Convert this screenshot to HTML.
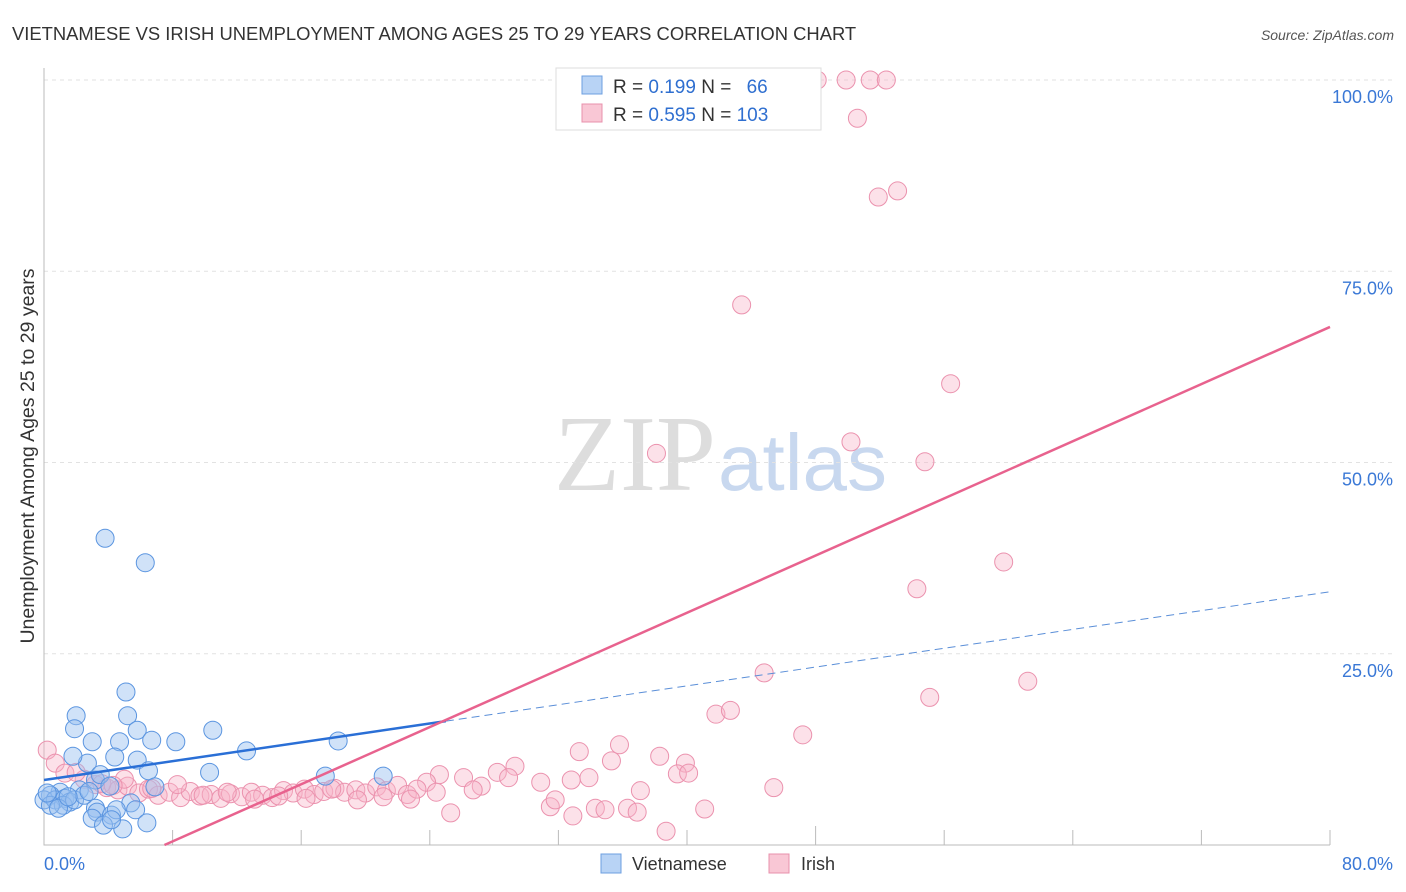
<!DOCTYPE html>
<html><head><meta charset="utf-8">
<style>
body{margin:0;background:#fff;font-family:"Liberation Sans",sans-serif;}
svg{display:block}
</style></head><body>
<svg id="c" width="1406" height="892">
<text x="12" y="40" font-size="18.4" fill="#333">VIETNAMESE VS IRISH UNEMPLOYMENT AMONG AGES 25 TO 29 YEARS CORRELATION CHART</text>
<text x="1394" y="40" font-size="14" fill="#555" font-style="italic" text-anchor="end">Source: ZipAtlas.com</text>
<text x="716" y="490" font-size="108" fill="#ddd" text-anchor="end" font-family="Liberation Serif">ZIP</text>
<text x="718" y="490" font-size="80" fill="#c8d8ef">atlas</text>
<text transform="translate(34,456) rotate(-90)" font-size="19.5" fill="#333" text-anchor="middle">Unemployment Among Ages 25 to 29 years</text>
<g id="grid"></g><g id="pts"></g><g id="lines"></g>
<g>
<rect x="556" y="68" width="265" height="62" fill="#fff" stroke="#ddd"/>
<rect x="582" y="76" width="20" height="18" fill="#b8d3f5" stroke="#6d9fe0"/>
<rect x="582" y="104" width="20" height="18" fill="#f9c7d5" stroke="#e890ac"/>
<text x="613" y="93" font-size="19" fill="#333">R = <tspan fill="#2f6fd0">0.199</tspan>   N = <tspan fill="#2f6fd0" dx="10">66</tspan></text>
<text x="613" y="121" font-size="19" fill="#333">R = <tspan fill="#2f6fd0">0.595</tspan>   N = <tspan fill="#2f6fd0">103</tspan></text>
</g>
<g>
<rect x="601" y="854" width="20" height="19" fill="#b8d3f5" stroke="#6d9fe0"/>
<text x="632" y="870" font-size="18" fill="#333">Vietnamese</text>
<rect x="769" y="854" width="20" height="19" fill="#f9c7d5" stroke="#e890ac"/>
<text x="801" y="870" font-size="18" fill="#333">Irish</text>
</g>
</svg>
<script>
const yTicks=[25,50,75,100];
const yTickLabels=["25.0%","50.0%","75.0%","100.0%"];
const xTicks=[8,16,24,32,40,48,56,64,72,80];
const viX=[3.8,6.3,5.1,5.2,2.0,1.9,5.8,10.5,6.7,8.2,3.0,4.7,4.4,12.6,18.3,2.7,1.8,5.8,10.3,6.5,17.5,21.1,6.9,3.2,3.5,4.1,2.2,1.0,0.4,0,0.7,1.3,1.6,1.2,3.2,3.3,4.2,5.4,4.5,5.7,3.0,3.7,4.9,6.4,4.2,0.4,0.9,1.9,2.5,0.2,1.5,2.8];
const viY=[40.1,36.9,20,16.9,16.9,15.2,15,15,13.7,13.5,13.5,13.5,11.5,12.3,13.6,10.7,11.6,11.1,9.5,9.7,9,9,7.6,8.5,9.2,7.7,7.2,6.9,6.5,5.9,5.9,6.1,5.6,5.2,4.8,4.3,3.9,5.5,4.6,4.6,3.5,2.6,2.1,2.9,3.3,5.2,4.8,5.9,6.5,6.8,6.3,7.0];
const irX=[46,48.1,49.9,51.4,52.4,50.6,51.9,53.1,43.4,56.4,50.2,38.1,54.8,59.7,54.3,61.2,55.1,44.8,41.8,42.7,47.2,45.4,41.1,38.7,37.1,38.3,39.9,39.4,40.1,35.8,35.3,33.3,33.9,32.8,31.5,31.8,32.9,34.3,34.9,36.3,36.9,30.9,29.3,28.2,28.9,26.1,27.2,26.7,24.6,23.8,24.4,25.3,0.2,0.7,1.3,2.5,3.2,3.9,4.6,5.2,5.9,6.5,7.1,7.8,8.5,9.1,9.7,10.4,11.0,11.6,12.3,12.9,13.6,14.2,14.9,15.5,16.2,16.8,17.4,18.1,18.7,19.4,20.0,20.7,21.3,22.0,22.6,23.2,2.0,3.6,5.0,6.7,8.3,9.9,11.4,13.1,14.6,16.3,17.9,19.5,21.1,22.8,4.3];
const irY=[100,100,100,100,100,95,84.7,85.5,70.6,60.3,52.7,51.2,50.1,37,33.5,21.4,19.3,22.5,17.1,17.6,14.4,7.5,4.7,1.8,7.1,11.6,10.7,9.3,9.4,13.1,11,12.2,8.8,8.5,5,5.9,3.8,4.8,4.6,4.8,4.3,8.2,10.3,9.5,8.8,8.8,7.7,7.2,9.2,8.2,6.9,4.2,12.4,10.7,9.4,8.6,7.9,7.5,7.2,7.7,6.8,7.3,6.5,6.9,6.2,7.0,6.4,6.6,6.1,6.7,6.3,6.9,6.5,6.2,7.1,6.8,7.3,6.6,7.0,7.4,6.9,7.2,6.8,7.6,7.1,7.8,6.6,7.3,9.5,8.0,8.6,7.4,7.9,6.5,6.9,6.0,6.4,6.1,7.3,5.9,6.3,6.0,7.8];
const viFit=[8.5,0.3075], irFit=[-7.0,0.934];
const X=v=>44+v/80*1286, Y=v=>845-v*7.65;
const NS="http://www.w3.org/2000/svg";
function mk(p,t,a){const e=document.createElementNS(NS,t);for(const k in a)e.setAttribute(k,a[k]);p.appendChild(e);return e;}
const g=document.getElementById('grid');
yTicks.forEach((t,i)=>{
 const l=mk(g,'line',{x1:44,x2:1394,y1:Y(t),y2:Y(t),stroke:'#e2e2e2','stroke-dasharray':'4,4'});
 
 
 const tx=mk(g,'text',{x:1393,y:Y(t)+23,'font-size':18,fill:'#3a78d6','text-anchor':'end'});tx.textContent=yTickLabels[i];
 
 
});
const ax=mk(g,'path',{d:'M44,68V845H1330',stroke:'#bbb',fill:'none'});


xTicks.forEach(t=>{const l=mk(g,'line',{x1:X(t),x2:X(t),y1:t===48?826:830,y2:845,stroke:'#bbb'});
 
 });
const x0=mk(g,'text',{x:44,y:870,'font-size':18,fill:'#3a78d6'});x0.textContent='0.0%';


const x1=mk(g,'text',{x:1393,y:870,'font-size':18,fill:'#3a78d6','text-anchor':'end'});x1.textContent='80.0%';


const pg=document.getElementById('pts');
irX.forEach((x,i)=>{const c=mk(pg,'circle',{cx:X(x),cy:Y(irY[i]),r:9,fill:'rgba(248,180,200,0.4)',stroke:'#eb92ae','stroke-width':1});
 
 });
viX.forEach((x,i)=>{const c=mk(pg,'circle',{cx:X(x),cy:Y(viY[i]),r:9,fill:'rgba(150,190,240,0.45)',stroke:'#5b95e0','stroke-width':1});
 
 });
const lg=document.getElementById('lines');
const f=(p,x)=>p[0]+p[1]*x;
let a=mk(lg,'line',{x1:X(0),y1:Y(f(viFit,0)),x2:X(25),y2:Y(f(viFit,25)),stroke:'#2a6fd6','stroke-width':2.5});


a=mk(lg,'line',{x1:X(25),y1:Y(f(viFit,25)),x2:X(80),y2:Y(f(viFit,80)),stroke:'#5b8fd8','stroke-width':1,'stroke-dasharray':'8,5'});


const xs=-irFit[0]/irFit[1];
a=mk(lg,'line',{x1:X(xs),y1:Y(0),x2:X(80),y2:Y(f(irFit,80)),stroke:'#e8628e','stroke-width':2.5});


</script>
</body></html>
